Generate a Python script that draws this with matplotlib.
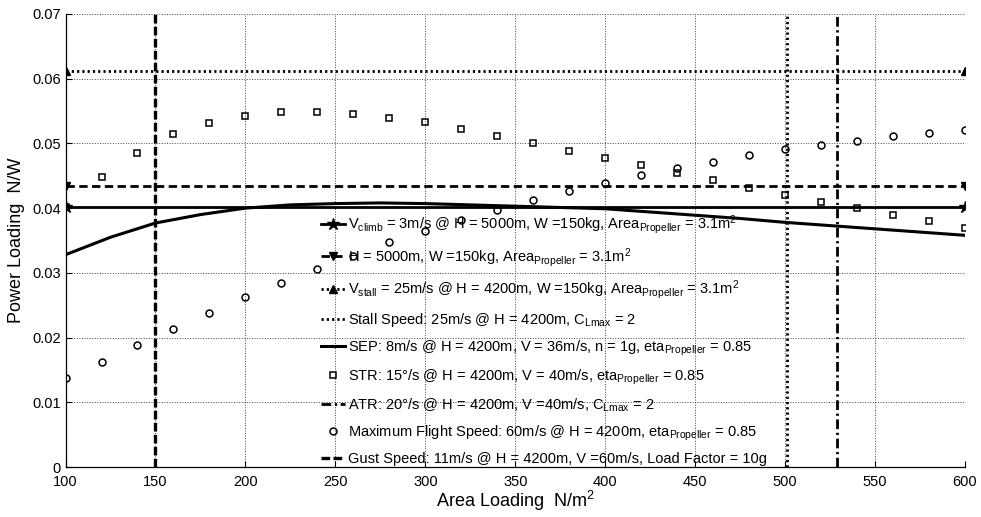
import matplotlib
matplotlib.use("Agg")
import matplotlib.pyplot as plt

plt.rcParams['font.family'] = ['Liberation Sans', 'DejaVu Sans']
plt.rcParams['mathtext.fontset'] = 'custom'
plt.rcParams['mathtext.rm'] = 'Liberation Sans'
plt.rcParams['mathtext.it'] = 'Liberation Sans'
plt.rcParams['mathtext.default'] = 'regular'

# ---- data ----
area_ends = [100, 600]
climb_level = 0.0401      # V_climb line
h5000_level = 0.0434      # H = 5000m line
vstall_level = 0.0612     # V_stall line
stall_speed_x = 501       # Stall speed vertical
atr_x = 529               # ATR vertical
gust_x = 150              # Gust speed vertical

sep_x = [100, 125, 150, 175, 200, 225, 250, 275, 300, 325, 350, 375, 400,
         425, 450, 475, 500, 525, 550, 575, 600]
sep_y = [0.0328, 0.0355, 0.0377, 0.0390, 0.0400, 0.0405, 0.0407, 0.0408,
         0.0407, 0.0405, 0.0403, 0.0401, 0.0399, 0.0394, 0.0389, 0.0384,
         0.0378, 0.0373, 0.0368, 0.0363, 0.0358]

grid_x = [100, 120, 140, 160, 180, 200, 220, 240, 260, 280, 300, 320, 340,
          360, 380, 400, 420, 440, 460, 480, 500, 520, 540, 560, 580, 600]
str_y = [0.0402, 0.0448, 0.0485, 0.0514, 0.0532, 0.0543, 0.0549, 0.0549,
         0.0546, 0.0539, 0.0533, 0.0522, 0.0512, 0.0500, 0.0489, 0.0477,
         0.0466, 0.0454, 0.0443, 0.0431, 0.0420, 0.0410, 0.0400, 0.0389,
         0.0380, 0.0370]
maxspeed_y = [0.0137, 0.0163, 0.0188, 0.0213, 0.0238, 0.0262, 0.0284, 0.0306,
              0.0326, 0.0348, 0.0364, 0.0382, 0.0397, 0.0412, 0.0426, 0.0439,
              0.0451, 0.0462, 0.0472, 0.0482, 0.0491, 0.0498, 0.0504, 0.0511,
              0.0516, 0.0520]

labels = [
    r"V$_{climb}$ = 3m/s @ H = 5000m, W =150kg, Area$_{Propeller}$ = 3.1m$^{2}$",
    r"H = 5000m, W =150kg, Area$_{Propeller}$ = 3.1m$^{2}$",
    r"V$_{stall}$ = 25m/s @ H = 4200m, W =150kg, Area$_{Propeller}$ = 3.1m$^{2}$",
    r"Stall Speed: 25m/s @ H = 4200m, C$_{Lmax}$ = 2",
    r"SEP: 8m/s @ H = 4200m, V = 36m/s, n = 1g, eta$_{Propeller}$ = 0.85",
    r"STR: 15°/s @ H = 4200m, V = 40m/s, eta$_{Propeller}$ = 0.85",
    r"ATR: 20°/s @ H = 4200m, V =40m/s, C$_{Lmax}$ = 2",
    r"Maximum Flight Speed: 60m/s @ H = 4200m, eta$_{Propeller}$ = 0.85",
    r"Gust Speed: 11m/s @ H = 4200m, V =60m/s, Load Factor = 10g",
]

ylim = (0, 0.07)

fig = plt.figure(figsize=(9.81, 5.17), dpi=100)
ax = fig.add_axes([0.0668, 0.0967, 0.9169, 0.8763])

k = 'black'
ax.plot(area_ends, [climb_level] * 2, '-', color=k, lw=2, marker='*', ms=9,
        label=labels[0])
ax.plot(area_ends, [h5000_level] * 2, color=k, lw=2, dashes=(3, 1.6),
        marker='v', ms=6, label=labels[1])
ax.plot(area_ends, [vstall_level] * 2, color=k, lw=2, dashes=(0.8, 1.1),
        marker='^', ms=6, label=labels[2])
ax.plot([stall_speed_x] * 2, ylim, color=k, lw=2, dashes=(0.8, 1.1),
        label=labels[3])
ax.plot(sep_x, sep_y, '-', color=k, lw=2.2, label=labels[4])
ax.plot(grid_x, str_y, ls='none', marker='s', ms=4.5, mfc='none', mec=k,
        mew=1.1, label=labels[5])
ax.plot([atr_x] * 2, ylim, color=k, lw=2, dashes=(3.5, 1.3, 0.8, 1.3),
        label=labels[6])
ax.plot(grid_x, maxspeed_y, ls='none', marker='o', ms=5, mfc='none', mec=k,
        mew=1.1, label=labels[7])
ax.plot([gust_x] * 2, ylim, color=k, lw=2.4, dashes=(2.6, 1.0),
        label=labels[8])

ax.set_xlim(100, 600)
ax.set_ylim(*ylim)
ax.set_xticks(range(100, 601, 50))
ax.set_yticks([0, 0.01, 0.02, 0.03, 0.04, 0.05, 0.06, 0.07])
ax.set_yticklabels(['0', '0.01', '0.02', '0.03', '0.04', '0.05', '0.06', '0.07'])
ax.tick_params(direction='in', length=4, labelsize=10.5, colors=k, width=0.8)
ax.tick_params(axis='x', pad=6)
ax.grid(True, ls=':', color='#444444', lw=0.7)
ax.set_axisbelow(True)
for s in ['top', 'right']:
    ax.spines[s].set_visible(False)
for s in ['left', 'bottom']:
    ax.spines[s].set_linewidth(0.9)

ax.set_xlabel(r"Area Loading  N/m$^{2}$", fontsize=13, labelpad=0)
ax.set_ylabel("Power Loading  N/W", fontsize=13, labelpad=5)

leg = ax.legend(loc='lower left', bbox_to_anchor=(0.281, -0.005), frameon=False,
                fontsize=10.5, handlelength=1.65, handletextpad=0.2,
                labelspacing=0.66, borderaxespad=0, borderpad=0.2)

fig.savefig('out.png', dpi=100)
